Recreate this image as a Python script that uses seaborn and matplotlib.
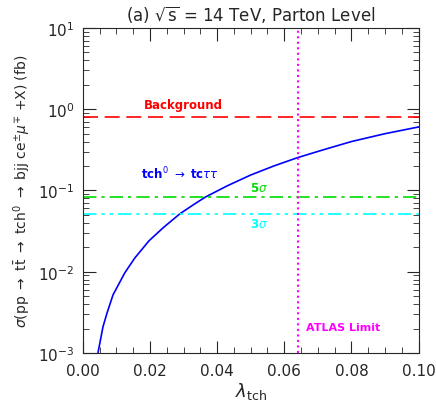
import matplotlib
matplotlib.use("Agg")
import matplotlib.pyplot as plt
import seaborn as sns
from matplotlib.ticker import MultipleLocator, LogLocator, NullFormatter, FormatStrFormatter

# values
lam = [0.0045, 0.006, 0.0072, 0.009, 0.0125, 0.0155, 0.0197, 0.024, 0.029, 0.033,
       0.0365, 0.043, 0.05, 0.057, 0.064, 0.072, 0.08, 0.09, 0.1]
sigma = [0.001, 0.0021, 0.0031, 0.0052, 0.0097, 0.0148, 0.024, 0.035, 0.052, 0.067,
         0.083, 0.114, 0.155, 0.201, 0.254, 0.32, 0.40, 0.50, 0.605]
background = 0.80
five_sigma = 0.084
three_sigma = 0.051
atlas_limit = 0.064

sns.set_style("ticks")
fig, ax = plt.subplots(figsize=(4.36, 4.14), dpi=100)
fig.subplots_adjust(left=0.19, right=0.96, top=0.93, bottom=0.145)

sns.lineplot(x=lam, y=sigma, ax=ax, color="blue", lw=1.2)
ax.axhline(background, color="red", ls=(0, (9, 4)), lw=1.2)
ax.axhline(five_sigma, color="#00dd00", ls=(0, (8, 3, 2, 3)), lw=1.2)
ax.axhline(three_sigma, color="cyan", ls=(0, (8, 3, 2, 3, 2, 3)), lw=1.2)
ax.axvline(atlas_limit, color="magenta", ls=":", lw=1.5)

ax.set_yscale("log")
ax.set_xlim(0, 0.1)
ax.set_ylim(1e-3, 10)
ax.xaxis.set_major_locator(MultipleLocator(0.02))
ax.xaxis.set_minor_locator(MultipleLocator(0.005))
ax.yaxis.set_major_locator(LogLocator(base=10))
ax.yaxis.set_minor_locator(LogLocator(base=10, subs=range(2, 10)))
ax.yaxis.set_minor_formatter(NullFormatter())
ax.tick_params(which="both", direction="in", top=True, right=True, labelsize=11)
ax.tick_params(which="major", length=9)
ax.tick_params(which="minor", length=4)
ax.tick_params(axis="x", pad=7)
ax.tick_params(axis="y", pad=6)
ax.xaxis.set_major_formatter(FormatStrFormatter("%.2f"))

ax.text(0.03, 1.05, "Background", color="red", fontsize=8.5, fontweight="bold", ha="center")
ax.text(0.029, 0.14, r"tch$^0$ $\rightarrow$ tc$\tau\tau$", color="blue", fontsize=8.5, fontweight="bold", ha="center")
ax.text(0.0525, 0.098, r"5$\sigma$", color="#00dd00", fontsize=8.5, fontweight="bold", ha="center")
ax.text(0.0525, 0.036, r"3$\sigma$", color="cyan", fontsize=8.5, fontweight="bold", ha="center")
ax.text(0.0665, 0.0019, "ATLAS Limit", color="magenta", fontsize=8, fontweight="bold", ha="left")

ax.set_title(r"(a) $\sqrt{\rm s}$ = 14 TeV, Parton Level", fontsize=12)
ax.set_xlabel(r"$\lambda_{\rm tch}$", fontsize=13, labelpad=2)
ax.set_ylabel(r"$\sigma$(pp $\rightarrow$ t$\bar{\rm t}$ $\rightarrow$ tch$^0$ $\rightarrow$ bjj ce$^{\pm}\mu^{\mp}$ +X) (fb)", fontsize=10)

fig.savefig("out.png")
